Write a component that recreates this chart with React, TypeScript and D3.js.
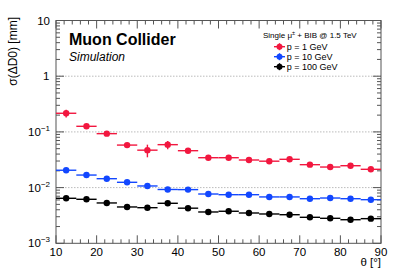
import React from "react";
import * as d3 from "d3";

const thetaCenters = [12.5, 17.5, 22.5, 27.5, 32.5, 37.5, 42.5, 47.5, 52.5, 57.5, 62.5, 67.5, 72.5, 77.5, 82.5, 87.5];
const binHalfWidth = 2.5;

const red1GeV = [0.216, 0.126, 0.093, 0.058, 0.047, 0.059, 0.046, 0.0344, 0.0344, 0.0313, 0.0298, 0.0322, 0.0258, 0.0234, 0.0247, 0.0213];
const red1GeVErr = [0.035, 0.008, 0.005, 0.005, 0.012, 0.01, 0.004, 0.002, 0.002, 0.002, 0.002, 0.002, 0.0015, 0.0015, 0.0015, 0.0012];
const blue10GeV = [0.0205, 0.0168, 0.01445, 0.01245, 0.0107, 0.00925, 0.0092, 0.00767, 0.00746, 0.00746, 0.0068, 0.0068, 0.00632, 0.0065, 0.00632, 0.00607];
const blue10GeVErr = [0.0008, 0.0006, 0.0005, 0.0004, 0.0004, 0.0003, 0.0003, 0.0003, 0.0003, 0.0003, 0.0002, 0.0002, 0.0002, 0.0002, 0.0002, 0.0002];
const black100GeV = [0.00643, 0.00617, 0.0053, 0.00449, 0.00436, 0.00523, 0.00427, 0.00365, 0.00376, 0.0035, 0.00336, 0.00326, 0.00293, 0.00281, 0.00265, 0.00277];
const black100GeVErr = [0.0004, 0.0003, 0.0002, 0.0002, 0.0002, 0.0003, 0.0002, 0.0001, 0.0001, 0.0001, 0.0001, 0.0001, 0.0001, 0.0001, 0.0001, 0.0001];

const seriesLabels = ["p = 1 GeV", "p = 10 GeV", "p = 100 GeV"];
const seriesColors = ["#f2173f", "#1247ff", "#000000"];
const xTickValues = [10, 20, 30, 40, 50, 60, 70, 80, 90];
const yDecadeExponents = [-3, -2, -1, 0, 1];

const FONT = "'Liberation Sans', Arial, Helvetica, sans-serif";

export default function App() {
  const W = 407, H = 277;
  const x0 = 56, x1 = 381, yTop = 20.5, yBot = 243.3;
  const x = d3.scaleLinear().domain([10, 90]).range([x0, x1]);
  const y = d3.scaleLog().domain([0.001, 10]).range([yBot, yTop]);

  const series = [
    { vals: red1GeV, errs: red1GeVErr },
    { vals: blue10GeV, errs: blue10GeVErr },
    { vals: black100GeV, errs: black100GeVErr },
  ];

  const minorX = d3.range(10, 90.001, 2).filter((v) => !xTickValues.includes(Math.round(v)));
  const minorY: number[] = [];
  for (let e = -3; e < 1; e++) for (let k = 2; k <= 9; k++) minorY.push(k * Math.pow(10, e));

  const axisColor = "#555";
  const majLen = 8, minLen = 4;

  const legendX = 279.5;
  const legendYs = [46.7, 56.7, 66.7];

  return (
    <svg width={W} height={H} style={{ position: "absolute", left: 0, top: 0, background: "#fff" }} fontFamily={FONT}>
      <rect x={0} y={0} width={W} height={H} fill="#fff" />
      {/* grid */}
      {[0.01, 0.1, 1].map((v) => (
        <line key={"g" + v} x1={x0} x2={x1} y1={y(v)} y2={y(v)} stroke="#aaa" strokeWidth={0.8} strokeDasharray="1.5,1.5" />
      ))}
      {/* frame */}
      <rect x={x0} y={yTop} width={x1 - x0} height={yBot - yTop} fill="none" stroke={axisColor} strokeWidth={1} />
      {/* x ticks */}
      {xTickValues.map((v) => (
        <g key={"xt" + v}>
          <line x1={x(v)} x2={x(v)} y1={yBot} y2={yBot - majLen} stroke={axisColor} />
          <line x1={x(v)} x2={x(v)} y1={yTop} y2={yTop + majLen} stroke={axisColor} />
          <text x={x(v)} y={255.5} fontSize={11.5} textAnchor="middle" fill="#000">{v}</text>
        </g>
      ))}
      {minorX.map((v) => (
        <g key={"xm" + v}>
          <line x1={x(v)} x2={x(v)} y1={yBot} y2={yBot - minLen} stroke={axisColor} />
          <line x1={x(v)} x2={x(v)} y1={yTop} y2={yTop + minLen} stroke={axisColor} />
        </g>
      ))}
      {/* y ticks */}
      {yDecadeExponents.map((e) => {
        const v = Math.pow(10, e);
        return (
          <g key={"yt" + e}>
            <line x1={x0} x2={x0 + majLen} y1={y(v)} y2={y(v)} stroke={axisColor} />
            <line x1={x1} x2={x1 - majLen} y1={y(v)} y2={y(v)} stroke={axisColor} />
            {e === 0 ? (
              <text x={49.5} y={y(v) + 4} fontSize={11.5} textAnchor="end">1</text>
            ) : e === 1 ? (
              <text x={50} y={y(v) + 4} fontSize={11.5} textAnchor="end">10</text>
            ) : (
              <text x={50} y={y(v) + 4} fontSize={11.5} textAnchor="end">
                10<tspan fontSize={8} dy={-5}>{"\u2212" + (-e)}</tspan>
              </text>
            )}
          </g>
        );
      })}
      {minorY.map((v) => (
        <g key={"ym" + v}>
          <line x1={x0} x2={x0 + minLen} y1={y(v)} y2={y(v)} stroke={axisColor} />
          <line x1={x1} x2={x1 - minLen} y1={y(v)} y2={y(v)} stroke={axisColor} />
        </g>
      ))}
      {/* data */}
      {series.map((s, si) => (
        <g key={"s" + si}>
          {s.vals.map((v, i) => {
            const cx = x(thetaCenters[i]);
            const cy = y(v);
            const eh = y(v - s.errs[i]);
            const el = y(v + s.errs[i]);
            return (
              <g key={i}>
                <line x1={x(thetaCenters[i] - binHalfWidth)} x2={x(thetaCenters[i] + binHalfWidth)} y1={cy} y2={cy} stroke={seriesColors[si]} strokeWidth={1.4} />
                <line x1={cx} x2={cx} y1={el} y2={eh} stroke={seriesColors[si]} strokeWidth={1.4} />
                <circle cx={cx} cy={cy} r={3.2} fill={seriesColors[si]} />
              </g>
            );
          })}
        </g>
      ))}
      {/* texts */}
      <text x={69} y={45} fontSize={16} fontWeight="bold">Muon Collider</text>
      <text x={69} y={60.5} fontSize={12} fontStyle="italic">Simulation</text>
      <text x={263} y={38.3} fontSize={8}>
        Single μ<tspan fontSize={5.5} dy={-3}>±</tspan><tspan dy={3}> + BIB @ 1.5 TeV</tspan>
      </text>
      {seriesLabels.map((lab, i) => (
        <g key={"lg" + i}>
          <line x1={legendX - 5.5} x2={legendX + 5.5} y1={legendYs[i]} y2={legendYs[i]} stroke={seriesColors[i]} strokeWidth={1.4} />
          <line x1={legendX} x2={legendX} y1={legendYs[i] - 3.5} y2={legendYs[i] + 3.5} stroke={seriesColors[i]} strokeWidth={1.4} />
          <circle cx={legendX} cy={legendYs[i]} r={3} fill={seriesColors[i]} />
          <text x={286.7} y={legendYs[i] + 3.2} fontSize={9}>{lab}</text>
        </g>
      ))}
      <text x={381} y={266} fontSize={11.5} textAnchor="end">θ [°]</text>
      <text transform={`translate(16.5,${17}) rotate(-90)`} fontSize={12} textAnchor="end">σ(ΔD0) [mm]</text>
    </svg>
  );
}
